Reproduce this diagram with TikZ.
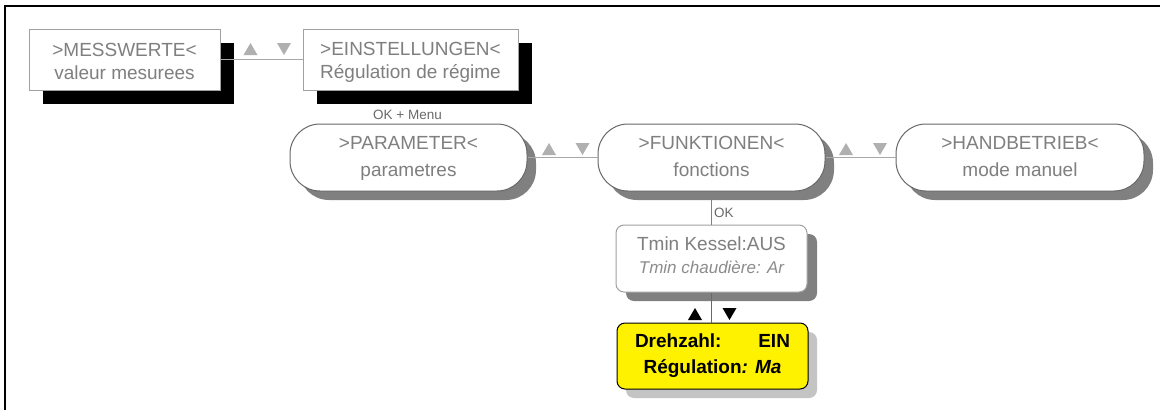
\documentclass[tikz,border=0pt]{standalone}
\usepackage{fontspec}
\setmainfont{Liberation Sans}
\usetikzlibrary{shadows}
\definecolor{txtgray}{HTML}{7F7F7F}
\definecolor{itgray}{HTML}{8C8C8C}
\definecolor{rectline}{HTML}{A0A0A0}
\definecolor{stadline}{HTML}{686868}
\definecolor{shadgray}{HTML}{808080}
\definecolor{lightshad}{HTML}{C4C4C4}
\definecolor{conngray}{HTML}{A8A8A8}
\definecolor{trigray}{HTML}{B0B0B0}
\definecolor{lblgray}{HTML}{6A6A6A}
\begin{document}
\begin{tikzpicture}[x=1pt,y=-1pt,
  basebox/.style={inner sep=0pt, line width=1pt, fill=white, text=txtgray, align=center,
    font=\fontsize{19}{23}\selectfont},
  sqbox/.style={basebox, draw=rectline, minimum width=#1, minimum height=61pt,
    drop shadow={shadow xshift=14pt, shadow yshift=-14pt, fill=black, opacity=1}},
  stadbox/.style={basebox, draw=stadline, rounded corners=30pt, minimum width=#1, minimum height=67pt,
    font=\fontsize{19}{27}\selectfont,
    drop shadow={shadow xshift=9pt, shadow yshift=-9pt, fill=shadgray, opacity=1}},
  tminbox/.style={basebox, draw=rectline, rounded corners=8pt, minimum width=191pt, minimum height=67pt,
    drop shadow={shadow xshift=10pt, shadow yshift=-9pt, fill=shadgray, opacity=1}},
  yelbox/.style={basebox, draw=black, fill=yellow, text=black, rounded corners=8pt,
    minimum width=191pt, minimum height=66pt, font=\fontsize{19}{26}\selectfont\bfseries,
    drop shadow={shadow xshift=9pt, shadow yshift=-9pt, fill=lightshad, opacity=1}},
  conn/.style={draw=conngray, line width=1pt},
  smalllbl/.style={inner sep=0pt, text=lblgray, font=\fontsize{13.5}{16}\selectfont},
]
\useasboundingbox (0,0) rectangle (1160,410);
\fill[white] (0,0) rectangle (1160,410);
% frame
\draw[line width=2pt] (5,410) -- (5,6) -- (1160,6);

% top row
\node[sqbox=191pt] (mess) at (124.5,59.5) {\rule{0pt}{18pt}>MESSWERTE<\\valeur mesurees};
\node[sqbox=215pt] (ein) at (410.5,59.5) {\rule{0pt}{18pt}>EINSTELLUNGEN<\\Régulation de régime};
\draw[conn] (mess.east) -- (ein.west);
\fill[trigray] (243.5,55) -- (257.5,55) -- (250.5,43) -- cycle;
\fill[trigray] (277,43) -- (291,43) -- (284,55) -- cycle;

\node[smalllbl, anchor=base] (okmenu) at (407.5,119) {OK + Menu};

% middle row
\node[stadbox=237pt] (param) at (408.5,157.5) {\rule{0pt}{14pt}>PARAMETER<\\parametres\rule[-4pt]{0pt}{4pt}};
\node[stadbox=227pt] (funk) at (711.5,157.5) {\rule{0pt}{14pt}>FUNKTIONEN<\\fonctions\rule[-4pt]{0pt}{4pt}};
\node[stadbox=248pt] (hand) at (1020,157.5) {\rule{0pt}{14pt}>HANDBETRIEB<\\mode manuel\rule[-4pt]{0pt}{4pt}};
\draw[conn] (param.east) -- (funk.west);
\draw[conn] (funk.east) -- (hand.west);
\fill[trigray] (542,155) -- (556,155) -- (549,143) -- cycle;
\fill[trigray] (575.5,143) -- (589.5,143) -- (582.5,155) -- cycle;
\fill[trigray] (839,155) -- (853,155) -- (846,143) -- cycle;
\fill[trigray] (873,143) -- (887,143) -- (880,155) -- cycle;

% lower column
\node[tminbox] (tmin) at (711.5,258.5) {\rule{0pt}{14pt}Tmin Kessel:AUS\\{\color{itgray}\fontsize{17}{23}\selectfont\itshape Tmin chaudière: Ar}\rule[-8pt]{0pt}{8pt}};
\draw[draw=shadgray, line width=1pt] (funk.south) -- (tmin.north);
\node[smalllbl, anchor=base west] (ok) at (714,217) {OK};

\node[yelbox] (drehz) at (712.5,356) {\rule{0pt}{14pt}\makebox[155pt]{Drehzahl:\hfill EIN}\\Régulation\textit{: Ma}\rule[-6pt]{0pt}{6pt}};
\draw[draw=stadline, line width=1pt] (tmin.south) -- (tmin.south |- drehz.north);
\fill[black] (688,320) -- (702,320) -- (695,308) -- cycle;
\fill[black] (722.5,308) -- (736.5,308) -- (729.5,320) -- cycle;
\end{tikzpicture}
\end{document}
